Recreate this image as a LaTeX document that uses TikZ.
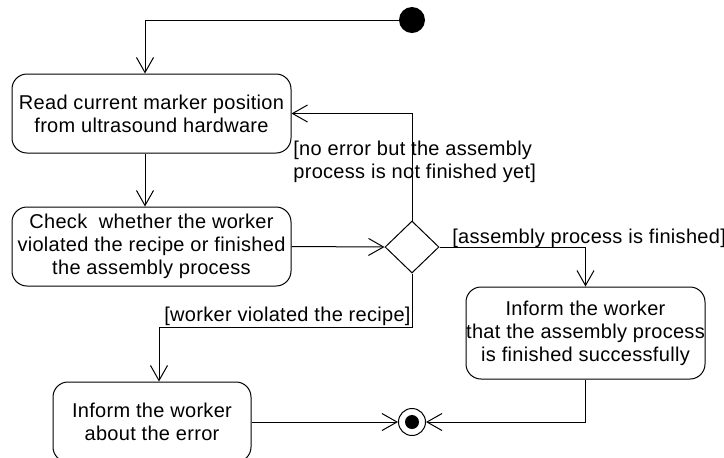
\documentclass[tikz,border=0pt]{standalone}
\usepackage{fontspec}
\setmainfont[LetterSpace=1.5]{Liberation Sans}
\usetikzlibrary{shapes, arrows.meta, positioning}

\begin{document}
\begin{tikzpicture}[x=0.5pt, y=-0.5pt, font=\fontsize{10}{11.5}\selectfont,
  act/.style={draw, rounded corners=7.5pt, align=center, inner sep=0pt, line width=0.5pt},
  flow/.style={-{Straight Barb[length=7.5pt, width=8.5pt]}, line width=0.5pt},
  guard/.style={inner sep=1pt, align=left}]
  \useasboundingbox (0,0) rectangle (724,457);

  % Titik awal, keputusan dan titik akhir
  \node[circle, fill, minimum size=13pt, inner sep=0pt] (start) at (412,20) {};
  \node[diamond, draw, line width=0.5pt, minimum width=27pt, minimum height=26pt, inner sep=0pt] (dec) at (412,247) {};
  \node[circle, draw, line width=0.5pt, minimum size=13.5pt, inner sep=0pt] (stop) at (412,422) {};
  \fill (stop.center) circle (3.5pt);

  % Aktivitas
  \node[act, minimum width=139.5pt, minimum height=39.5pt] (read) at (151.5,113.5)
    {Read current marker position\\from ultrasound hardware};
  \node[act, minimum width=139.5pt, minimum height=39.5pt] (check) at (151.5,246.5)
    {Check\ \ whether the worker\\violated the recipe or finished\\the assembly process};
  \node[act, minimum width=119.5pt, minimum height=46pt] (done) at (585.5,333)
    {Inform the worker\\that the assembly process\\is finished successfully};
  \node[act, minimum width=99pt, minimum height=40pt] (err) at (152,422)
    {Inform the worker\\about the error};

  % Panah
  \coordinate (bend) at (159,327);
  \draw[flow] (start) -| ([xshift=-3.25pt]read.north);
  \draw[flow] ([xshift=-3.25pt]read.south) -- ([xshift=-3.25pt]check.north);
  \draw[flow] (check.east) -- (dec.west);
  \draw[flow] (dec.north) |- (read.east);
  \draw[flow] (dec.east) -| (done.north);
  \draw[flow] (dec.south) |- (bend) -- (bend |- err.north);
  \draw[flow] (err.east) -- (stop.west);
  \draw[flow] (done.south) |- (stop.east);

  % Label kondisi
  \node[guard, anchor=west] (g1) at (291,162)
    {[no error but the assembly\\process is not finished yet]};
  \node[guard, inner sep=0pt, anchor=west] (g2) at (452,238) {[assembly process is finished]};
  \node[guard, anchor=south west] (g3) at (162,328) {[worker violated the recipe]};
\end{tikzpicture}
\end{document}
